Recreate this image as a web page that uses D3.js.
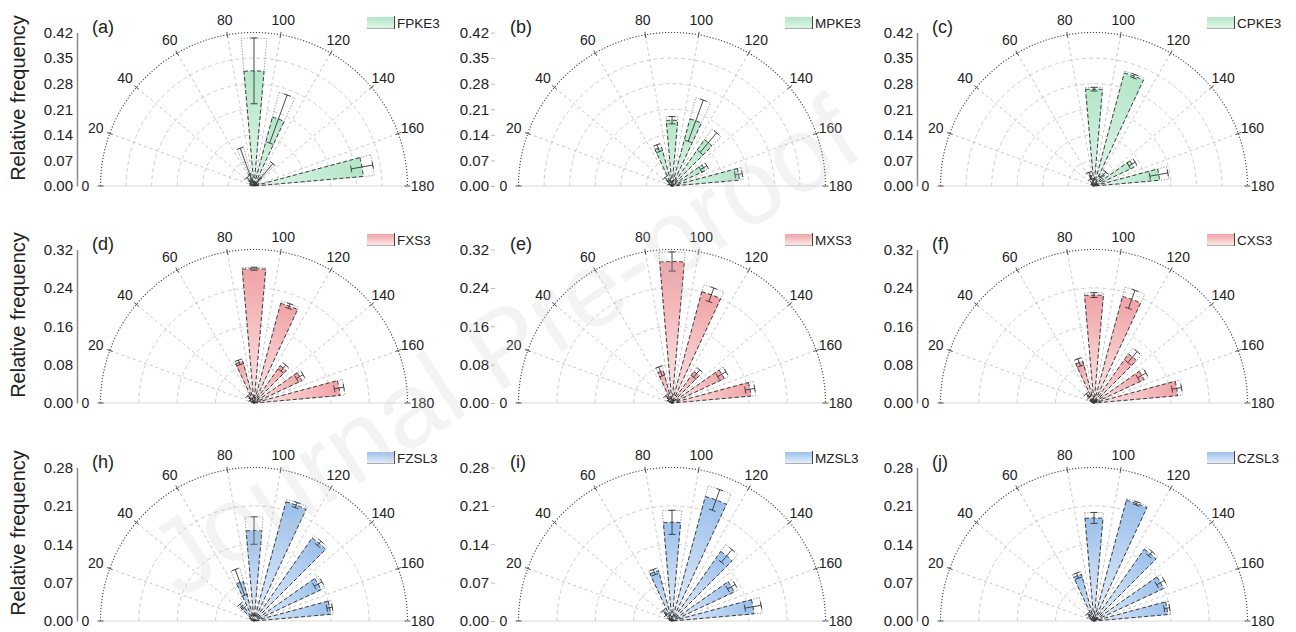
<!DOCTYPE html>
<html>
<head>
<meta charset="utf-8">
<script src="https://cdn.jsdelivr.net/npm/d3@7"></script>
<style>
  body { margin: 0; background: #fff; }
  svg { display: block; font-family: "Liberation Sans", Arial, sans-serif; }
</style>
</head>
<body>
<script>
// bin centres (degrees) and angular tick labels
const angleBins = [10, 30, 50, 70, 90, 110, 130, 150, 170];
const angleTicks = [0, 20, 40, 60, 80, 100, 120, 140, 160, 180];

const panelTags = ["(a)", "(b)", "(c)", "(d)", "(e)", "(f)", "(h)", "(i)", "(j)"];
const seriesNames = ["FPKE3", "MPKE3", "CPKE3", "FXS3", "MXS3", "CXS3", "FZSL3", "MZSL3", "CZSL3"];

const rowMax = [0.42, 0.32, 0.28];
const rowTicks = [
  [0, 0.07, 0.14, 0.21, 0.28, 0.35, 0.42],
  [0, 0.08, 0.16, 0.24, 0.32],
  [0, 0.07, 0.14, 0.21, 0.28]
];
// [inner, outer] colours of the bar gradients, one pair per row
const rowColors = [["#e0f5e9", "#b3e6c8"], ["#fde6e6", "#f0a3a6"], ["#e4eefb", "#9bc0eb"]];

// relative frequency per angle bin, and error
const valsA = [0.01, 0.015, 0.02, 0.035, 0.315, 0.195, 0.03, 0.015, 0.30];
const errA  = [0, 0, 0.01, 0.075, 0.09, 0.07, 0.05, 0, 0.03];
const valsB = [0.005, 0.01, 0.02, 0.11, 0.18, 0.19, 0.155, 0.10, 0.185];
const errB  = [0, 0, 0.01, 0.01, 0.01, 0.06, 0.035, 0.01, 0.01];
const valsC = [0.005, 0.01, 0.015, 0.03, 0.265, 0.32, 0.04, 0.12, 0.18];
const errC  = [0, 0, 0, 0.01, 0.005, 0.005, 0.01, 0.01, 0.025];
const valsD = [0.005, 0.01, 0.015, 0.09, 0.28, 0.215, 0.095, 0.11, 0.18];
const errD  = [0, 0, 0.005, 0.005, 0.003, 0.005, 0.008, 0.008, 0.01];
const valsE = [0.005, 0.01, 0.015, 0.07, 0.295, 0.24, 0.08, 0.12, 0.165];
const errE  = [0, 0, 0.005, 0.01, 0.02, 0.015, 0.01, 0.01, 0.01];
const valsF = [0.005, 0.01, 0.02, 0.09, 0.225, 0.23, 0.125, 0.115, 0.175];
const errF  = [0, 0, 0.005, 0.008, 0.005, 0.02, 0.015, 0.01, 0.01];
const valsH = [0.005, 0.01, 0.035, 0.075, 0.165, 0.225, 0.185, 0.135, 0.14];
const errH  = [0, 0, 0.005, 0.025, 0.025, 0.005, 0.005, 0.008, 0.005];
const valsI = [0.005, 0.01, 0.02, 0.095, 0.18, 0.235, 0.155, 0.125, 0.15];
const errI  = [0, 0, 0.005, 0.005, 0.022, 0.02, 0.015, 0.008, 0.015];
const valsJ = [0.005, 0.01, 0.015, 0.088, 0.188, 0.228, 0.16, 0.14, 0.135];
const errJ  = [0, 0, 0.003, 0.005, 0.01, 0.003, 0.005, 0.008, 0.005];

const allVals = [valsA, valsB, valsC, valsD, valsE, valsF, valsH, valsI, valsJ];
const allErrs = [errA, errB, errC, errD, errE, errF, errH, errI, errJ];

const width = 1296, height = 632;
const colX = [254, 672, 1094], rowY = [186, 403, 621], R = 153.5;
const halfWidth = 5; // degrees

const svg = d3.select("body").append("svg")
    .attr("width", width)
    .attr("height", height);
const defs = svg.append("defs");

// 0 deg on the left, 90 at top, 180 on the right
const ang = d3.scaleLinear().domain([0, 180]).range([-Math.PI / 2, Math.PI / 2]);
const pt = (a, rr) => [rr * Math.sin(ang(a)), -rr * Math.cos(ang(a))];

function halfCircle(rr) {
    const p = d3.path();
    p.arc(0, 0, rr, -Math.PI, 0);
    return p.toString();
}

panelTags.forEach((tag, i) => {
    const row = Math.floor(i / 3), col = i % 3;
    const cx = colX[col], cy = rowY[row];
    const max = rowMax[row];
    const r = d3.scaleLinear().domain([0, max]).range([0, R]).clamp(true);
    const vals = allVals[i], errs = allErrs[i];
    const [c0, c1] = rowColors[row];

    const g = svg.append("g").attr("transform", `translate(${cx},${cy})`);

    // concentric grid
    g.selectAll(".ring")
        .data(rowTicks[row].filter(t => t > 0 && t < max))
        .join("path")
        .attr("d", t => halfCircle(r(t)))
        .attr("fill", "none")
        .attr("stroke", "#c2c2c2")
        .attr("stroke-width", 0.8)
        .attr("stroke-dasharray", "4,3");

    // radial grid
    g.selectAll(".spoke")
        .data(angleTicks)
        .join("line")
        .attr("x1", 0).attr("y1", 0)
        .attr("x2", a => pt(a, R)[0])
        .attr("y2", a => pt(a, R)[1])
        .attr("stroke", a => (a === 0 || a === 180) ? "#d0d0d0" : "#b8b8b8")
        .attr("stroke-width", 0.8)
        .attr("stroke-dasharray", a => (a === 0 || a === 180) ? null : "3,3");

    // outer arc + ticks
    g.append("path")
        .attr("d", halfCircle(R))
        .attr("fill", "none")
        .attr("stroke", "#444")
        .attr("stroke-width", 1.1)
        .attr("stroke-dasharray", "1.2,1.8");
    g.selectAll(".atick")
        .data(angleTicks)
        .join("line")
        .attr("x1", a => pt(a, R - 3)[0]).attr("y1", a => pt(a, R - 3)[1])
        .attr("x2", a => pt(a, R + 3)[0]).attr("y2", a => pt(a, R + 3)[1])
        .attr("stroke", "#555")
        .attr("stroke-width", 1);

    g.selectAll(".alabel")
        .data(angleTicks)
        .join("text")
        .attr("x", a => pt(a, R + 15)[0])
        .attr("y", a => pt(a, R + 15)[1])
        .attr("text-anchor", "middle")
        .attr("dominant-baseline", "central")
        .attr("font-size", 14)
        .attr("fill", "#222")
        .text(a => a);

    // gradients for each bar, running from centre to tip
    angleBins.forEach((a, k) => {
        const tip = pt(a, r(vals[k]));
        const lg = defs.append("linearGradient")
            .attr("id", `grad${i}_${k}`)
            .attr("gradientUnits", "userSpaceOnUse")
            .attr("x1", 0).attr("y1", 0)
            .attr("x2", tip[0]).attr("y2", tip[1]);
        lg.append("stop").attr("offset", "0%").attr("stop-color", c0);
        lg.append("stop").attr("offset", "100%").attr("stop-color", c1);
    });

    const wedge = d3.arc().innerRadius(0);

    // error envelopes (dotted)
    g.selectAll(".env")
        .data(angleBins.map((a, k) => ({ a, v: vals[k], e: errs[k] })).filter(d => d.e > 0))
        .join("path")
        .attr("d", d => wedge({
            outerRadius: r(d.v + d.e),
            startAngle: ang(d.a - halfWidth),
            endAngle: ang(d.a + halfWidth)
        }))
        .attr("fill", "none")
        .attr("stroke", "#666")
        .attr("stroke-width", 0.7)
        .attr("stroke-dasharray", "1.2,1.6");

    // bars
    g.selectAll(".bar")
        .data(angleBins.map((a, k) => ({ a, v: vals[k], k })))
        .join("path")
        .attr("d", d => wedge({
            outerRadius: r(d.v),
            startAngle: ang(d.a - halfWidth),
            endAngle: ang(d.a + halfWidth)
        }))
        .attr("fill", d => `url(#grad${i}_${d.k})`)
        .attr("stroke", "#2a2a2a")
        .attr("stroke-width", 0.9)
        .attr("stroke-dasharray", "4,2.5");

    // error bars (lower end clamped at the centre)
    const eb = g.selectAll(".err")
        .data(angleBins.map((a, k) => ({ a, v: vals[k], e: errs[k] })).filter(d => d.e > 0))
        .join("g");
    eb.append("line")
        .attr("x1", d => pt(d.a, r(d.v - d.e))[0]).attr("y1", d => pt(d.a, r(d.v - d.e))[1])
        .attr("x2", d => pt(d.a, r(d.v + d.e))[0]).attr("y2", d => pt(d.a, r(d.v + d.e))[1])
        .attr("stroke", "#333").attr("stroke-width", 0.9);
    [-1, 1].forEach(s => {
        const ends = eb.filter(d => d.v + s * d.e > 0);
        ends.append("line")
            .attr("x1", d => { const p = pt(d.a, r(d.v + s * d.e)), t = ang(d.a); return p[0] - 3.5 * Math.cos(t); })
            .attr("y1", d => { const p = pt(d.a, r(d.v + s * d.e)), t = ang(d.a); return p[1] - 3.5 * Math.sin(t); })
            .attr("x2", d => { const p = pt(d.a, r(d.v + s * d.e)), t = ang(d.a); return p[0] + 3.5 * Math.cos(t); })
            .attr("y2", d => { const p = pt(d.a, r(d.v + s * d.e)), t = ang(d.a); return p[1] + 3.5 * Math.sin(t); })
            .attr("stroke", "#333").attr("stroke-width", 0.9);
    });

    // radial value axis on the left
    const y = d3.scaleLinear().domain([0, max]).range([cy, cy - R]);
    const ax = svg.append("g")
        .attr("transform", `translate(${cx - 177},0)`)
        .call(d3.axisLeft(y)
            .tickValues(rowTicks[row])
            .tickFormat(d3.format(".2f"))
            .tickSize(col === 1 ? 4 : 0)
            .tickSizeOuter(0)
            .tickPadding(col === 1 ? 2 : 4));
    ax.select(".domain")
        .attr("stroke", "#8a8a8a")
        .attr("stroke-width", 1.5)
        .attr("opacity", col === 1 ? 0 : 1);
    ax.selectAll(".tick line").attr("stroke", "#bbb");
    ax.selectAll(".tick text")
        .attr("font-size", 15)
        .attr("fill", "#222")
        .attr("font-family", "Liberation Sans, Arial, sans-serif");

    if (col === 0) {
        svg.append("text")
            .attr("transform", `translate(18,${cy - 88}) rotate(-90)`)
            .attr("text-anchor", "middle")
            .attr("dominant-baseline", "central")
            .attr("font-size", 20)
            .attr("fill", "#222")
            .text("Relative frequency");
    }

    // panel tag
    svg.append("text")
        .attr("x", cx - 162)
        .attr("y", cy - 153)
        .attr("font-size", 18)
        .attr("fill", "#222")
        .text(tag);

    // legend
    const lgId = `leg${i}`;
    const lgg = defs.append("linearGradient").attr("id", lgId)
        .attr("x1", 0).attr("y1", 0).attr("x2", 0).attr("y2", 1);
    lgg.append("stop").attr("offset", "0%").attr("stop-color", c1);
    lgg.append("stop").attr("offset", "100%").attr("stop-color", c0);
    svg.append("rect")
        .attr("x", cx + 113).attr("y", cy - 169)
        .attr("width", 27).attr("height", 11)
        .attr("fill", `url(#${lgId})`);
    svg.append("line")
        .attr("x1", cx + 113).attr("x2", cx + 140)
        .attr("y1", cy - 157.5).attr("y2", cy - 157.5)
        .attr("stroke", "#999").attr("stroke-width", 0.8);
    svg.append("line")
        .attr("x1", cx + 140.5).attr("x2", cx + 140.5)
        .attr("y1", cy - 170).attr("y2", cy - 157)
        .attr("stroke", "#444").attr("stroke-width", 1);
    svg.append("text")
        .attr("x", cx + 143)
        .attr("y", cy - 163)
        .attr("dominant-baseline", "central")
        .attr("font-size", 13.5)
        .attr("fill", "#222")
        .text(seriesNames[i]);
});

// faint watermark
svg.append("text")
    .attr("transform", "translate(180,600) rotate(-33)")
    .attr("font-size", 106)
    .attr("fill", "#c8c8c8")
    .attr("opacity", 0.2)
    .text("Journal Pre-proof");
</script>
</body>
</html>
